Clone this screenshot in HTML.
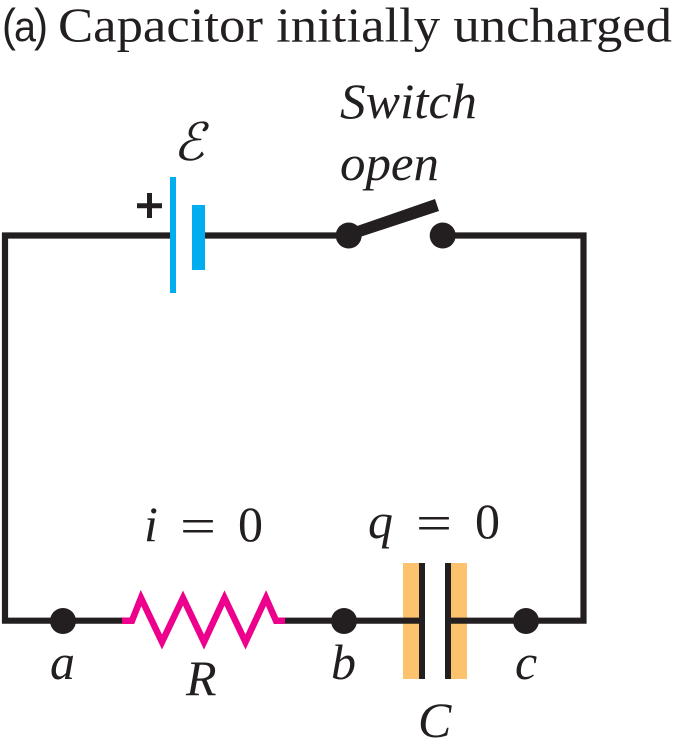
<!DOCTYPE html>
<html><head><meta charset="utf-8">
<style>html,body{margin:0;padding:0;background:#fff;width:676px;height:740px;overflow:hidden}svg{display:block}text{fill:#231f20}.s{font-family:"Liberation Serif",serif}.i{font-family:"Liberation Serif",serif;font-style:italic}</style></head>
<body>
<svg width="676" height="740" viewBox="0 0 676 740" xmlns="http://www.w3.org/2000/svg">
<text x="2" y="41" font-family="Liberation Sans, sans-serif" font-size="46" textLength="14" lengthAdjust="spacingAndGlyphs">(</text>
<text x="14" y="41" font-family="Liberation Sans, sans-serif" font-size="42" textLength="22" lengthAdjust="spacingAndGlyphs">a</text>
<text x="34" y="41" font-family="Liberation Sans, sans-serif" font-size="46" textLength="14" lengthAdjust="spacingAndGlyphs">)</text>
<text x="58" y="41.5" class="s" font-size="49" textLength="614" lengthAdjust="spacingAndGlyphs">Capacitor initially uncharged</text>
<text x="340" y="118" class="i" font-size="50" textLength="137" lengthAdjust="spacingAndGlyphs">Switch</text>
<text x="340" y="180" class="i" font-size="50" textLength="99" lengthAdjust="spacingAndGlyphs">open</text>
<text x="173" y="160" class="i" font-size="52">ℰ</text>
<path d="M5 235.5H583.5V620.7H5Z" fill="none" stroke="#231f20" stroke-width="6.2"/>
<rect x="176" y="225" width="16" height="20" fill="#fff"/>
<rect x="356" y="228" width="78" height="15" fill="#fff"/>
<rect x="170" y="177" width="6" height="116" fill="#00aeef"/>
<rect x="192" y="205" width="13" height="65" fill="#00aeef"/>
<path d="M137 205.7H162M149.5 193V218" stroke="#231f20" stroke-width="5" fill="none"/>
<circle cx="348.7" cy="235.5" r="13" fill="#231f20"/>
<circle cx="442.7" cy="235.5" r="13" fill="#231f20"/>
<polygon points="357,226 435,199 439,211 360,237" fill="#231f20"/>
<rect x="425" y="560" width="20" height="122" fill="#fff"/>
<rect x="122" y="612" width="163" height="18" fill="#fff"/>
<polyline points="122,620.7 132,620.7 141,598 162,642 183,598 204,642 224.5,598 245.5,642 266,598 276,620.7 285,620.7" fill="none" stroke="#ec008c" stroke-width="6.5" stroke-miterlimit="10"/>
<rect x="403" y="563" width="16" height="116" fill="#fdc26e"/>
<rect x="451" y="563" width="16" height="116" fill="#fdc26e"/>
<path d="M403 620.7H420M450 620.7H467" stroke="#231f20" stroke-width="6.2"/>
<rect x="419" y="563" width="6" height="116" fill="#231f20"/>
<rect x="445" y="563" width="6" height="116" fill="#231f20"/>
<circle cx="63" cy="621" r="13" fill="#231f20"/>
<circle cx="344" cy="621" r="13" fill="#231f20"/>
<circle cx="526" cy="621" r="13" fill="#231f20"/>
<text x="144" y="541" class="i" font-size="50">i</text>
<text x="180" y="543" class="s" font-size="50" textLength="36" lengthAdjust="spacingAndGlyphs">=</text>
<text x="238" y="541" class="s" font-size="50">0</text>
<text x="368" y="538" class="i" font-size="50">q</text>
<text x="416" y="540" class="s" font-size="50" textLength="36" lengthAdjust="spacingAndGlyphs">=</text>
<text x="475" y="538" class="s" font-size="50">0</text>
<text x="50" y="679" class="i" font-size="50">a</text>
<text x="186" y="695" class="i" font-size="50">R</text>
<text x="331" y="679" class="i" font-size="50">b</text>
<text x="515" y="679" class="i" font-size="50">c</text>
<text x="418" y="737" class="i" font-size="50">C</text>
</svg>
</body></html>
